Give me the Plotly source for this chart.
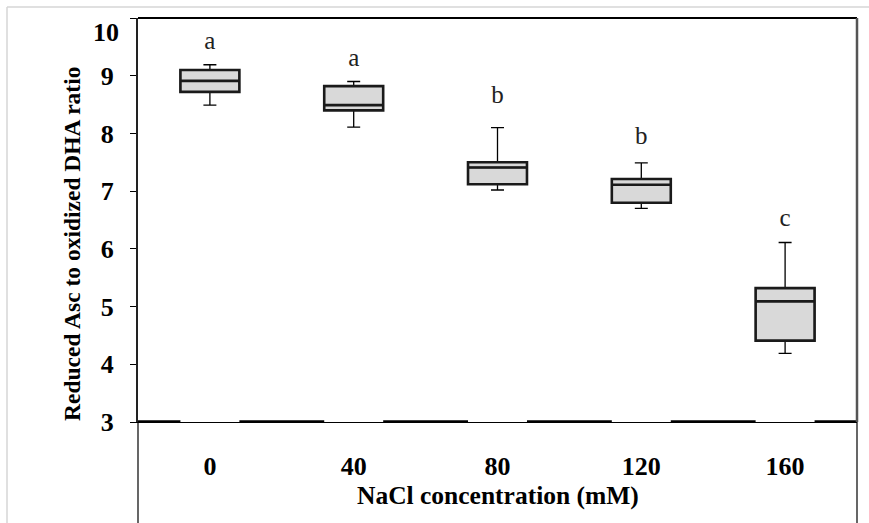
import plotly.graph_objects as go

# ---- data ----
categories = ["0", "40", "80", "120", "160"]
lower_whisker = [8.49, 8.11, 7.02, 6.70, 4.19]
q1 = [8.72, 8.40, 7.12, 6.80, 4.41]
median = [8.91, 8.49, 7.41, 7.11, 5.09]
q3 = [9.10, 8.82, 7.50, 7.21, 5.32]
upper_whisker = [9.19, 8.90, 8.10, 7.49, 6.11]
letters = ["a", "a", "b", "b", "c"]
letter_y = [9.57, 9.28, 8.64, 7.93, 6.50]
y_ticks = [3, 4, 5, 6, 7, 8, 9, 10]

# ---- layout geometry ----
W, H = 869, 523
L, R, T, B = 138, 12, 18, 101
PW, PH = W - L - R, H - T - B
BOX_W = 0.41
SERIF = "Liberation Serif"


def px_x(px):
    return (px - L) / PW


def px_y(py):
    return (H - B - py) / PH


fig = go.Figure()

# thin whiskers + box
fig.add_trace(go.Box(
    x=categories, q1=q1, median=median, q3=q3,
    lowerfence=lower_whisker, upperfence=upper_whisker,
    width=BOX_W, whiskerwidth=0.22, boxpoints=False,
    fillcolor="#d9d9d9", line=dict(color="black", width=1.3),
    showlegend=False, hoverinfo="skip",
))
# thicker box outline & median
fig.add_trace(go.Box(
    x=categories, q1=q1, median=median, q3=q3,
    lowerfence=q1, upperfence=q3,
    width=BOX_W, whiskerwidth=0, boxpoints=False,
    fillcolor="rgba(0,0,0,0)", line=dict(color="#1a1a1a", width=2.6),
    showlegend=False, hoverinfo="skip",
))
# significance letters
fig.add_trace(go.Scatter(
    x=categories, y=letter_y, mode="text", text=letters,
    textposition="middle center",
    textfont=dict(family=SERIF, size=25, color="#222"),
    showlegend=False, hoverinfo="skip",
))

shapes = []
# thick segments on the baseline between boxes
n = len(categories)
for i in range(-1, n):
    x0 = max(i + BOX_W / 2, -0.5)
    x1 = min(i + 1 - BOX_W / 2, n - 0.5)
    shapes.append(dict(type="line", xref="x", yref="y", x0=x0, x1=x1,
                       y0=y_ticks[0], y1=y_ticks[0],
                       line=dict(color="black", width=3.5)))
# frame
shapes.append(dict(type="line", xref="paper", yref="paper", x0=0, x1=1, y0=1, y1=1,
                   line=dict(color="black", width=2)))
shapes.append(dict(type="line", xref="paper", yref="paper", x0=1, x1=1, y0=0, y1=1,
                   line=dict(color="#555", width=2.5)))
shapes.append(dict(type="line", xref="paper", yref="paper", x0=0, x1=0, y0=0, y1=px_y(H + 2),
                   line=dict(color="black", width=1.2)))
shapes.append(dict(type="line", xref="paper", yref="paper", x0=1, x1=1, y0=0, y1=px_y(H + 2),
                   line=dict(color="black", width=1.2)))
# page border (light grey)
shapes.append(dict(type="line", xref="paper", yref="paper", x0=px_x(7), x1=px_x(W + 2),
                   y0=px_y(7), y1=px_y(7), line=dict(color="#d6d6d6", width=1.5)))
shapes.append(dict(type="line", xref="paper", yref="paper", x0=px_x(7), x1=px_x(7),
                   y0=px_y(7), y1=px_y(H + 2), line=dict(color="#d6d6d6", width=1.5)))

annotations = [
    dict(text="Reduced Asc to oxidized DHA ratio", xref="paper", yref="paper",
         x=px_x(72), y=px_y(244), xanchor="center", yanchor="middle", textangle=-90,
         showarrow=False, font=dict(family=SERIF, size=23.5, color="black", weight="bold")),
    dict(text="NaCl concentration (mM)", xref="paper", yref="paper",
         x=0.5, y=px_y(495), xanchor="center", yanchor="middle",
         showarrow=False, font=dict(family=SERIF, size=25.5, color="black", weight="bold")),
    dict(text=str(y_ticks[-1]), xref="paper", yref="y", x=0, y=y_ticks[-1],
         xanchor="right", yanchor="middle", xshift=-17, yshift=-14,
         showarrow=False, font=dict(family=SERIF, size=26, color="black", weight="bold")),
]

fig.update_layout(
    width=W, height=H,
    margin=dict(l=L, r=R, t=T, b=B, pad=0),
    paper_bgcolor="white", plot_bgcolor="white",
    boxmode="overlay",
    shapes=shapes, annotations=annotations,
    xaxis=dict(type="category", range=[-0.5, n - 0.5], showline=True,
               linecolor="black", linewidth=1.2, ticks="", showgrid=False,
               zeroline=False, ticklabelstandoff=21,
               tickfont=dict(family=SERIF, size=26, color="black", weight="bold")),
    yaxis=dict(range=[y_ticks[0], y_ticks[-1]], tickvals=y_ticks,
               ticktext=[str(v) for v in y_ticks[:-1]] + [""],
               ticks="outside", ticklen=6, tickwidth=1.2, tickcolor="black",
               showline=True, linecolor="#222", linewidth=2, showgrid=False,
               zeroline=False, ticklabelstandoff=11,
               tickfont=dict(family=SERIF, size=26, color="black", weight="bold")),
)

fig.write_html("out.html")
